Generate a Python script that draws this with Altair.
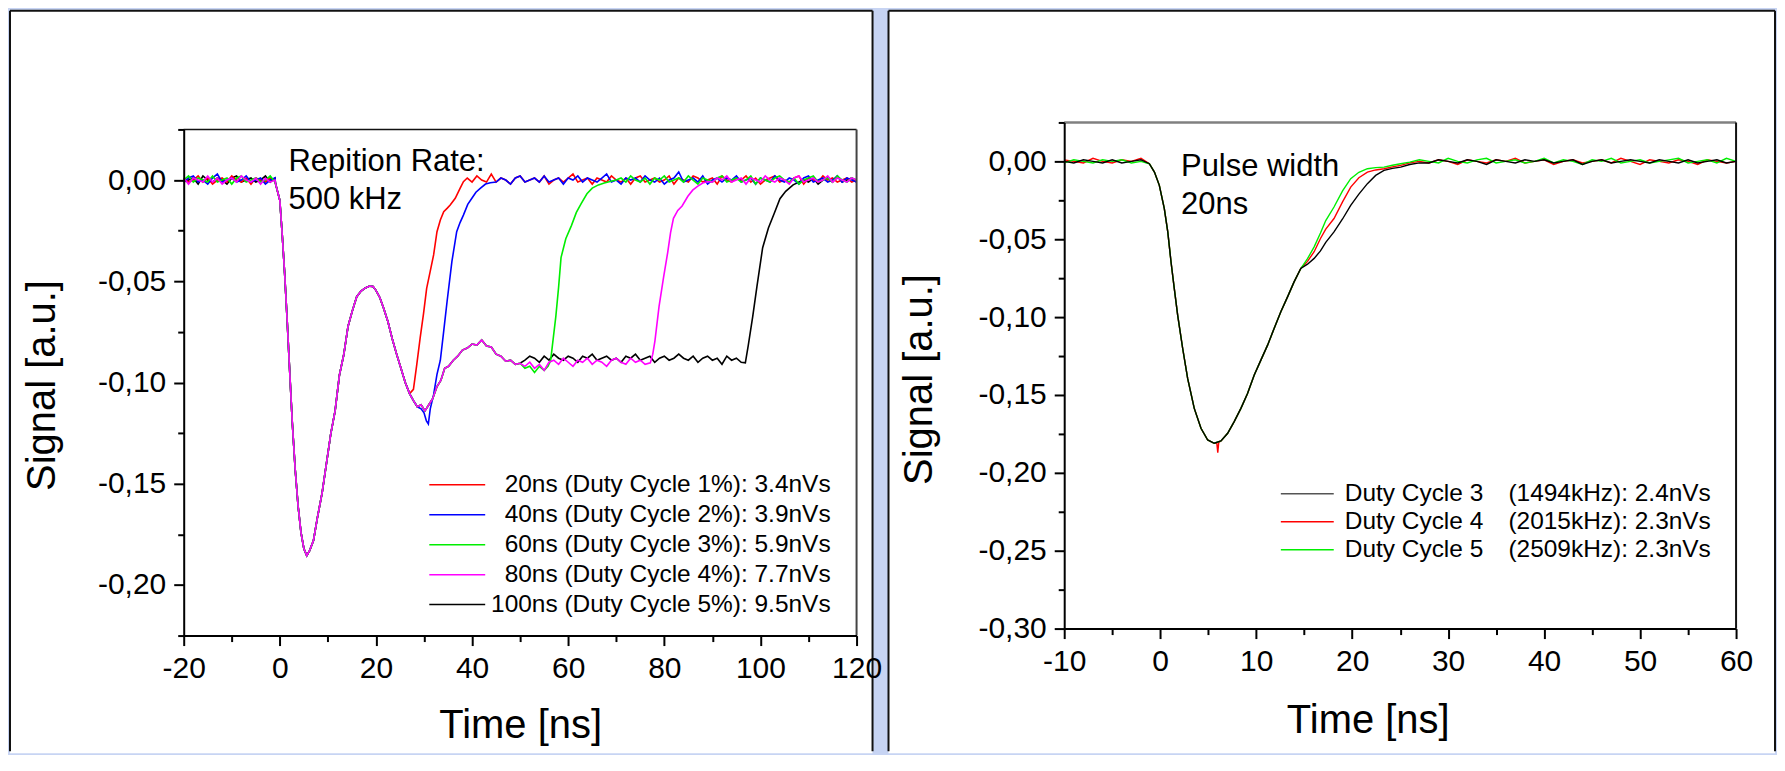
import altair as alt
import pandas as pd

FONT = "Liberation Sans"
BG = "#c7d4f3"

# ============ LEFT PANEL (repetition rate 500 kHz) ============
LEFT_LEGEND = ["20ns (Duty Cycle 1%): 3.4nVs", "40ns (Duty Cycle 2%): 3.9nVs",
               "60ns (Duty Cycle 3%): 5.9nVs", "80ns (Duty Cycle 4%): 7.7nVs",
               "100ns (Duty Cycle 5%): 9.5nVs"]
LEFT_COLORS = ["#ff0000", "#0000ff", "#00ee00", "#ff00ff", "#000000"]
LEFT_X_TICKS = [-20, -10, 0, 10, 20, 30, 40, 50, 60, 70, 80, 90, 100, 110, 120]
LEFT_Y_TICKS = [-0.225, -0.2, -0.175, -0.15, -0.125, -0.1, -0.075, -0.05, -0.025, 0.0, 0.025]
LEFT_NOTE_T = [1.81, 1.81]
LEFT_NOTE_V = [0.0043, -0.0145]
LEFT_NOTE_TXT = ["Repition Rate:", "500 kHz"]

# baseline noise before the pulse (t = -20 ... -1 ns)
L_PRE_RED = [0.001, -0.001, 0.0, 0.002, -0.001, 0.001, -0.002, 0.0, 0.001, -0.001,
             0.002, 0.0, -0.001, 0.001, -0.002, 0.001, 0.0, -0.001, 0.001, 0.0]
L_PRE_BLUE = [-0.001, 0.001, 0.002, -0.001, 0.0, -0.002, 0.001, 0.003, -0.001, 0.0,
              0.001, -0.001, 0.0, 0.002, -0.001, 0.0, 0.001, -0.002, 0.0, 0.001]
L_PRE_GREEN = [0.0, 0.002, -0.001, 0.001, 0.0, -0.001, 0.002, -0.001, 0.0, 0.001,
               -0.002, 0.001, 0.002, -0.001, 0.0, 0.001, -0.001, 0.0, 0.002, -0.001]
L_PRE_MAG = [0.001, -0.002, 0.001, 0.0, -0.001, 0.002, -0.001, 0.001, -0.002, 0.0,
             0.001, -0.001, 0.002, 0.0, -0.001, 0.001, -0.002, 0.001, -0.001, 0.0]
L_PRE_BLACK = [-0.001, 0.0, 0.001, -0.002, 0.002, 0.0, -0.001, 0.001, 0.0, -0.002,
               0.001, 0.002, -0.001, 0.0, 0.001, -0.001, 0.0, 0.002, -0.001, 0.001]

# common pulse shape
L_PULSE_T = [-0.9, 0.0, 0.5, 1.0, 1.5, 2.0, 2.6, 3.2, 3.8, 4.4,
             5.0, 5.6, 6.2, 7.0, 7.8, 8.8, 9.7, 10.6, 11.5, 12.4,
             13.3, 14.2, 15.1, 16.0, 16.9, 17.8, 18.7, 19.4, 20.0, 20.8,
             21.6, 22.5, 23.4, 24.3, 25.2, 26.1, 27.0]
L_PULSE_V = [-0.0017, -0.010, -0.027, -0.046, -0.068, -0.092, -0.120, -0.143, -0.161, -0.174,
             -0.182, -0.1855, -0.183, -0.178, -0.167, -0.1545, -0.140, -0.1254, -0.114, -0.0964,
             -0.0863, -0.0722, -0.0645, -0.0576, -0.0548, -0.0533, -0.0524, -0.0526, -0.0545, -0.058,
             -0.0633, -0.070, -0.0785, -0.086, -0.093, -0.100, -0.1055]

# 20 ns pulse recovery
RED_TAIL_T = [27.8, 28.5, 29.2, 29.9, 30.55, 31.3, 32.0, 32.7, 33.4, 34.1, 34.8, 35.45, 36.5, 37.5, 38.2]
RED_TAIL_V = [-0.1034, -0.091, -0.078, -0.066, -0.0535, -0.045, -0.037, -0.0255, -0.0197, -0.0156,
              -0.014, -0.0123, -0.009, -0.0041, -0.0008]
RED_NOISE = [0.001, -0.001, 0.002, 0.0, -0.001, 0.003, -0.001, 0.001, 0.0, -0.002,
             0.001, 0.002, -0.001, 0.0, 0.001, -0.001, 0.002, -0.002, 0.0, 0.001,
             -0.001, 0.001, 0.003, -0.001, 0.0, 0.001, -0.002, 0.001, 0.0, -0.001,
             0.002, 0.0, -0.001, 0.001, -0.002, 0.001, 0.002, -0.001, 0.0, 0.001,
             -0.001, 0.0, 0.002, -0.002, 0.001, 0.0, -0.001, 0.002, 0.001, -0.001,
             0.0, 0.001, -0.002, 0.002, 0.0, -0.001, 0.001, 0.0, 0.002, -0.001,
             0.001, -0.002, 0.0, 0.001, 0.002, -0.001, 0.0, -0.001, 0.001, 0.002,
             -0.002, 0.001, 0.0, -0.001, 0.002, 0.0, 0.001, -0.001, 0.0, 0.001,
             -0.001, 0.0]

# 40 ns pulse recovery
BLUE_TAIL_T = [27.8, 28.6, 29.4, 30.0, 30.5, 30.9, 31.3, 32.0, 32.7, 33.4, 34.1,
               34.8, 35.8, 36.8, 37.5, 38.2, 39.1, 39.96, 40.8, 41.7, 42.8, 43.8]
BLUE_TAIL_V = [-0.109, -0.112, -0.113, -0.115, -0.119, -0.1205, -0.113, -0.106, -0.096, -0.089, -0.0746,
               -0.060, -0.0403, -0.0255, -0.021, -0.0173, -0.012, -0.009, -0.006, -0.0041, -0.002, -0.0013]
BLUE_NOISE = [-0.001, 0.001, 0.0, -0.002, 0.001, 0.002, -0.001, 0.0, 0.001, -0.001,
              0.002, -0.001, 0.0, 0.001, -0.002, 0.001, 0.0, 0.002, -0.001, 0.001,
              0.0, -0.001, 0.001, 0.003, -0.001, 0.0, -0.002, 0.001, 0.0, 0.001,
              -0.001, 0.002, 0.0, -0.001, 0.001, -0.002, 0.0, 0.001, 0.004, -0.001,
              0.0, 0.001, -0.001, 0.002, -0.002, 0.0, 0.001, -0.001, 0.001, 0.0,
              0.002, -0.001, 0.0, 0.001, -0.002, 0.001, 0.0, -0.001, 0.002, 0.0,
              -0.001, 0.001, 0.0, -0.002, 0.001, 0.002, -0.001, 0.0, 0.001, -0.001,
              0.0, 0.002, -0.001, 0.001, 0.0, -0.001]

# common ringing for the longer pulses (60/80/100 ns)
S2_T = [27.8, 28.6, 29.4, 30.2, 31.0, 31.8, 32.7, 33.5, 34.3, 35.1, 36.1, 37.0, 38.0,
        39.0, 40.0, 41.0, 42.0, 43.0, 44.0, 45.0, 46.0, 47.0, 48.0, 49.0, 50.0]
S2_V = [-0.109, -0.112, -0.111, -0.114, -0.111, -0.108, -0.102, -0.099, -0.093, -0.092, -0.089, -0.087, -0.084,
        -0.083, -0.081, -0.0815, -0.079, -0.082, -0.0825, -0.086, -0.087, -0.0895, -0.089, -0.091, -0.0905]

GREEN_TAIL_T = [51, 52, 53, 54, 55, 55.8, 56.35, 56.9, 57.43, 58.0, 58.51, 59.5, 60.67,
                61.7, 62.7, 63.9, 65.0, 66.3, 67.5, 68.7]
GREEN_TAIL_V = [-0.093, -0.092, -0.095, -0.092, -0.094, -0.092, -0.0891, -0.078, -0.0673, -0.053, -0.0383,
                -0.029, -0.0225, -0.016, -0.0116, -0.0068, -0.004, -0.0024, -0.0015, -0.0007]
GREEN_NOISE = [0.0, 0.001, -0.001, 0.002, 0.0, -0.001, 0.001, -0.002, 0.001, 0.0,
               0.002, -0.001, 0.0, 0.001, -0.001, 0.002, 0.0, -0.002, 0.001, 0.0,
               -0.001, 0.001, 0.002, -0.001, 0.0, 0.001, -0.001, 0.0, 0.002, -0.002,
               0.001, 0.0, -0.001, 0.001, 0.002, 0.0, -0.001, 0.001, -0.002, 0.0,
               0.001, 0.002, -0.001, 0.0, 0.001, -0.001, 0.002, 0.0, -0.001, 0.001,
               0.0]

MAG_PLATEAU = [-0.092, -0.090, -0.093, -0.091, -0.094, -0.090, -0.089, -0.091, -0.088, -0.090,
               -0.092, -0.089, -0.090, -0.088, -0.091, -0.089, -0.090, -0.092, -0.089, -0.088,
               -0.090, -0.091, -0.088, -0.090, -0.089, -0.091]
MAG_RISE_T = [77.09, 77.6, 78.05, 78.9, 79.85, 80.7, 81.3, 81.9, 82.8, 83.7, 84.9, 85.9, 86.9, 88.0, 89.1]
MAG_RISE_V = [-0.0903, -0.086, -0.0794, -0.0625, -0.048, -0.0358, -0.026, -0.0189, -0.015, -0.0128,
              -0.008, -0.005, -0.0031, -0.0015, -0.0007]
MAG_NOISE = [-0.001, 0.001, 0.0, 0.002, -0.001, 0.0, 0.001, -0.002, 0.001, 0.0,
             -0.001, 0.002, 0.0, -0.001, 0.001, 0.0, -0.002, 0.001, 0.002, -0.001,
             0.0, 0.001, -0.001, 0.0, 0.002, -0.001, 0.001, 0.0, -0.001, 0.001,
             0.0]

BLACK_PLATEAU = [-0.089, -0.087, -0.088, -0.090, -0.087, -0.089, -0.086, -0.088, -0.089, -0.087,
                 -0.088, -0.090, -0.087, -0.088, -0.086, -0.089, -0.088, -0.087, -0.089, -0.088,
                 -0.090, -0.087, -0.088, -0.086, -0.089, -0.088, -0.087, -0.090, -0.088, -0.087,
                 -0.089, -0.088, -0.086, -0.088, -0.089, -0.087, -0.090, -0.088, -0.087, -0.089,
                 -0.088, -0.091, -0.087, -0.089, -0.088, -0.090]
BLACK_RISE_T = [96.86, 97.46, 98.4, 99.26, 100.46, 101.66, 102.86, 104.06, 105.25, 106.8, 108.25]
BLACK_RISE_V = [-0.0903, -0.0818, -0.0673, -0.0528, -0.0334, -0.0237, -0.0165, -0.0092, -0.0056, -0.0024, -0.0007]
BLACK_NOISE = [0.0, -0.001, 0.001, -0.002, 0.0, 0.001, -0.001, 0.002, -0.001, 0.0, 0.001, -0.001]

# ============ RIGHT PANEL (pulse width 20 ns) ============
RIGHT_LEGEND_A = ["Duty Cycle 3", "Duty Cycle 4", "Duty Cycle 5"]
RIGHT_LEGEND_B = ["(1494kHz): 2.4nVs", "(2015kHz): 2.3nVs", "(2509kHz): 2.3nVs"]
RIGHT_LEGEND_COLORS = ["#555555", "#ff0000", "#00ee00"]
RIGHT_X_TICKS = [-10, -5, 0, 5, 10, 15, 20, 25, 30, 35, 40, 45, 50, 55, 60]
RIGHT_Y_TICKS = [-0.3, -0.275, -0.25, -0.225, -0.2, -0.175, -0.15, -0.125, -0.1,
                 -0.075, -0.05, -0.025, 0.0, 0.025]
RIGHT_NOTE_T = [2.17, 2.17]
RIGHT_NOTE_V = [-0.0096, -0.034]
RIGHT_NOTE_TXT = ["Pulse width", "20ns"]

R_PRE_BLACK = [0.0, -0.001, 0.001, 0.0, -0.001, 0.001, -0.001, 0.0, 0.001]
R_PRE_RED = [0.001, 0.0, -0.001, 0.002, 0.0, -0.001, 0.001, 0.0, 0.002]
R_PRE_GREEN = [-0.001, 0.001, 0.0, -0.001, 0.001, 0.0, 0.001, -0.001, 0.0]

R_PULSE_T = [-1.13, -0.6, -0.09, 0.43, 0.79, 1.13, 1.47, 1.82, 2.34, 2.86,
             3.55, 4.25, 4.95, 5.63, 6.33, 7.03, 7.71, 8.41, 9.1, 9.8,
             10.49, 11.19, 11.87, 12.57, 13.27, 13.95, 14.65]
R_PULSE_V = [-0.0015, -0.0069, -0.0154, -0.0304, -0.0453, -0.0646, -0.0817, -0.0987, -0.120, -0.1394,
             -0.1586, -0.1714, -0.1789, -0.181, -0.1795, -0.1746, -0.1671, -0.1586, -0.149, -0.1372,
             -0.1276, -0.118, -0.1073, -0.0966, -0.087, -0.0774, -0.0688]

R_TAIL_T = [15.35, 16.04, 16.7, 17.25, 18.11, 19.0, 19.85, 20.7, 21.59, 22.45, 23.32, 24.2, 25.05, 26.0]
R_GREEN_TAIL_V = [-0.0625, -0.0549, -0.046, -0.038, -0.0293, -0.019, -0.0111, -0.007, -0.0047, -0.004,
                  -0.0037, -0.0025, -0.0015, -0.0005]
R_RED_TAIL_V = [-0.0642, -0.058, -0.0495, -0.0435, -0.0367, -0.026, -0.0165, -0.0105, -0.0069, -0.0055,
                -0.0047, -0.0035, -0.0026, -0.001]
R_BLACK_TAIL_T = [15.35, 16.04, 16.7, 17.25, 18.11, 19.0, 19.85, 20.7, 21.59, 22.45, 23.32, 24.2, 25.05, 26.0, 27.0]
R_BLACK_TAIL_V = [-0.066, -0.0623, -0.0575, -0.052, -0.0453, -0.037, -0.0282, -0.021, -0.0143, -0.009,
                  -0.0058, -0.0045, -0.0037, -0.002, -0.001]
R_RED_SPIKE_T = [5.9, 6.0, 6.1]
R_RED_SPIKE_V = [-0.181, -0.187, -0.1805]

R_NOISE_RED = [0.0, -0.001, 0.001, 0.0, -0.002, 0.001, 0.0, -0.001, 0.001, 0.0,
               0.002, -0.001, 0.0, 0.001, -0.002, 0.0, 0.001, -0.001, 0.0, 0.001,
               -0.001, 0.002, 0.0, -0.002, 0.001, 0.0, -0.001, 0.001, 0.0, -0.002,
               0.001, 0.0, -0.001, 0.0]
R_NOISE_GREEN = [0.001, 0.0, -0.001, 0.002, 0.0, -0.001, 0.001, 0.002, -0.001, 0.0,
                 0.001, -0.001, 0.0, 0.002, -0.001, 0.001, 0.0, -0.002, 0.001, 0.0,
                 0.002, -0.001, 0.0, 0.001, -0.001, 0.0, 0.001, 0.002, -0.001, 0.0,
                 0.001, -0.001, 0.002, 0.0]
R_NOISE_BLACK = [-0.001, 0.001, 0.0, -0.001, 0.001, 0.0, -0.002, 0.001, 0.0, -0.001,
                 0.001, 0.0, 0.001, -0.001, 0.0, 0.001, -0.002, 0.0, 0.001, -0.001,
                 0.0, 0.001, 0.0, -0.001, 0.001, 0.0, -0.001, 0.001, -0.001, 0.0,
                 0.001, -0.001, 0.0]


def seq(start, values):
    """Sample times (1 ns apart) for a list of read-off values."""
    return [start + i for i in range(len(values))]


def frame(parts):
    ts, vs = [], []
    for t_list, v_list in parts:
        if len(t_list) != len(v_list):
            raise ValueError("length mismatch")
        ts += list(t_list)
        vs += list(v_list)
    return pd.DataFrame({"t": ts, "v": vs})


left_frames = [  # drawing order: black first, magenta last
    ("#000000", frame([(seq(-20, L_PRE_BLACK), L_PRE_BLACK), (L_PULSE_T, L_PULSE_V), (S2_T, S2_V),
                       (seq(51, BLACK_PLATEAU), BLACK_PLATEAU), (BLACK_RISE_T, BLACK_RISE_V),
                       (seq(109, BLACK_NOISE), BLACK_NOISE)])),
    ("#ff0000", frame([(seq(-20, L_PRE_RED), L_PRE_RED), (L_PULSE_T, L_PULSE_V), (RED_TAIL_T, RED_TAIL_V),
                       (seq(39, RED_NOISE), RED_NOISE)])),
    ("#0000ff", frame([(seq(-20, L_PRE_BLUE), L_PRE_BLUE), (L_PULSE_T, L_PULSE_V), (BLUE_TAIL_T, BLUE_TAIL_V),
                       (seq(45, BLUE_NOISE), BLUE_NOISE)])),
    ("#00ee00", frame([(seq(-20, L_PRE_GREEN), L_PRE_GREEN), (L_PULSE_T, L_PULSE_V), (S2_T, S2_V),
                       (GREEN_TAIL_T, GREEN_TAIL_V), (seq(70, GREEN_NOISE), GREEN_NOISE)])),
    ("#ff00ff", frame([(seq(-20, L_PRE_MAG), L_PRE_MAG), (L_PULSE_T, L_PULSE_V), (S2_T, S2_V),
                       (seq(51, MAG_PLATEAU), MAG_PLATEAU), (MAG_RISE_T, MAG_RISE_V),
                       (seq(90, MAG_NOISE), MAG_NOISE)])),
]

right_frames = [
    ("#ff0000", frame([(seq(-10, R_PRE_RED), R_PRE_RED), (R_PULSE_T, R_PULSE_V), (R_RED_SPIKE_T, R_RED_SPIKE_V),
                       (R_TAIL_T, R_RED_TAIL_V), (seq(27, R_NOISE_RED), R_NOISE_RED)])),
    ("#00ee00", frame([(seq(-10, R_PRE_GREEN), R_PRE_GREEN), (R_PULSE_T, R_PULSE_V),
                       (R_TAIL_T, R_GREEN_TAIL_V), (seq(27, R_NOISE_GREEN), R_NOISE_GREEN)])),
    ("#000000", frame([(seq(-10, R_PRE_BLACK), R_PRE_BLACK), (R_PULSE_T, R_PULSE_V),
                       (R_BLACK_TAIL_T, R_BLACK_TAIL_V), (seq(28, R_NOISE_BLACK), R_NOISE_BLACK)])),
]

# Both plot origins share the same y in the concat row; the left plot's
# scale range starts 7px lower so that its frame sits lower than the right one.
W_L, H_L, TOP_L = 674, 514, 7
W_R, H_R = 673, 507


def axis_common():
    return dict(domainColor="black", domainWidth=2, tickColor="black", tickWidth=2,
                labelFont=FONT, labelFontSize=30, labelColor="black", labelPadding=8,
                labelFlush=False, labelOverlap=False, grid=False, zindex=1,
                titleFont=FONT, titleFontSize=40, titleFontWeight="normal", titleColor="black")


def x_enc(domain, values, major, title_x, title_y):
    test = f"datum.value % {major} == 0"
    return alt.X("t:Q", scale=alt.Scale(domain=domain, nice=False, zero=False),
                 axis=alt.Axis(values=values, title="Time [ns]",
                               labelExpr=f"{test} ? toString(datum.value) : ''",
                               tickSize={"condition": {"test": test, "value": 10}, "value": 6},
                               titleX=title_x, titleY=title_y, **axis_common()))


def y_enc(domain, values, title_x, title_y, rng):
    test = "abs(round(datum.value * 40)) % 2 == 0"
    expr = (f"{test} ? (datum.value < -0.0001 ? '-' : '') + "
            "replace(format(abs(datum.value), '.2f'), '.', ',') : ''")
    return alt.Y("v:Q", scale=alt.Scale(domain=domain, nice=False, zero=False, range=rng),
                 axis=alt.Axis(values=values, title="Signal [a.u.]", labelExpr=expr,
                               tickSize={"condition": {"test": test, "value": 10}, "value": 6},
                               titleX=title_x, titleY=title_y, **axis_common()))


ONE = alt.Data(values=[{"k": 0}])


def panel(x0, x1, y0, y1):
    base = alt.Chart(ONE)
    return [
        base.mark_rect(fill="white").encode(x=alt.value(x0), x2=alt.value(x1), y=alt.value(y0),
                                            y2=alt.value(y1 + 2)),
        base.mark_rule(color="#111111", strokeWidth=2).encode(x=alt.value(x0), y=alt.value(y0), y2=alt.value(y1)),
        base.mark_rule(color="#111111", strokeWidth=2).encode(x=alt.value(x0), x2=alt.value(x1), y=alt.value(y0)),
        base.mark_rule(color="#111111", strokeWidth=2).encode(x=alt.value(x1), y=alt.value(y0), y2=alt.value(y1)),
    ]


def plot_frame(w, top, bottom, top_color, top_width, right_color, right_width):
    base = alt.Chart(ONE)
    return [
        base.mark_rule(color=top_color, strokeWidth=top_width).encode(x=alt.value(0), x2=alt.value(w), y=alt.value(top)),
        base.mark_rule(color=right_color, strokeWidth=right_width).encode(x=alt.value(w), y=alt.value(top),
                                                                          y2=alt.value(bottom)),
    ]


def note_layer(ts, vs, txt, xe, ye):
    df = pd.DataFrame({"t": ts, "v": vs, "txt": txt})
    return alt.Chart(df).mark_text(align="left", baseline="alphabetic", font=FONT, fontSize=31,
                                   color="black").encode(x=xe, y=ye, text="txt:N")


# ---------- left chart ----------
xl = x_enc([-20, 120], LEFT_X_TICKS, 20, W_L / 2, 70)
yl = y_enc([-0.225, 0.025], LEFT_Y_TICKS, -121, 263, [H_L, TOP_L])
left_lines = [alt.Chart(df).mark_line(color=c, strokeWidth=1.6).encode(x=xl, y=yl) for c, df in left_frames]
left_main = alt.layer(*panel(-174, 690, -112, 630), *left_lines,
                      *plot_frame(W_L, TOP_L, H_L, "#111111", 1.5, "#444444", 2),
                      note_layer(LEFT_NOTE_T, LEFT_NOTE_V, LEFT_NOTE_TXT, xl, yl))

lleg = pd.DataFrame({"row": list(range(len(LEFT_LEGEND))), "label": LEFT_LEGEND, "color": LEFT_COLORS})
ly = alt.Y("row:Q", scale=alt.Scale(domain=[0, 4], range=[363, 483], nice=False, zero=False), axis=None)
left_legend = alt.layer(
    alt.Chart(lleg).mark_rule(strokeWidth=1.5).encode(x=alt.value(246), x2=alt.value(302), y=ly,
                                                      color=alt.Color("color:N", scale=None)),
    alt.Chart(lleg).mark_text(align="right", baseline="middle", font=FONT, fontSize=24.5,
                              color="black").encode(x=alt.value(648), y=ly, text="label:N"),
)
left = alt.layer(left_main, left_legend).resolve_scale(y="independent").properties(width=W_L, height=H_L)

# ---------- right chart ----------
xr = x_enc([-10, 60], RIGHT_X_TICKS, 10, 304, 72)
yr = y_enc([-0.3, 0.025], RIGHT_Y_TICKS, -125, 257, [H_R, 0])
right_lines = [alt.Chart(df).mark_line(color=c, strokeWidth=1.4).encode(x=xr, y=yr) for c, df in right_frames]
right_main = alt.layer(*panel(-176, 712, -112, 630), *right_lines,
                       *plot_frame(W_R, 0, H_R, "#808080", 2.5, "#111111", 2),
                       note_layer(RIGHT_NOTE_T, RIGHT_NOTE_V, RIGHT_NOTE_TXT, xr, yr))

rleg = pd.DataFrame({"row": list(range(len(RIGHT_LEGEND_A))), "a": RIGHT_LEGEND_A, "b": RIGHT_LEGEND_B,
                     "color": RIGHT_LEGEND_COLORS})
ry = alt.Y("row:Q", scale=alt.Scale(domain=[0, 2], range=[372, 428], nice=False, zero=False), axis=None)
right_legend = alt.layer(
    alt.Chart(rleg).mark_rule(strokeWidth=1.5).encode(x=alt.value(217), x2=alt.value(270), y=ry,
                                                      color=alt.Color("color:N", scale=None)),
    alt.Chart(rleg).mark_text(align="left", baseline="middle", font=FONT, fontSize=24.5,
                              color="black").encode(x=alt.value(281), y=ry, text="a:N"),
    alt.Chart(rleg).mark_text(align="left", baseline="middle", font=FONT, fontSize=24.5,
                              color="black").encode(x=alt.value(445), y=ry, text="b:N"),
)
right = alt.layer(right_main, right_legend).resolve_scale(y="independent").properties(width=W_R, height=H_R)

chart = (
    alt.hconcat(left, right, spacing=4)
    .resolve_scale(x="independent", y="independent")
    .properties(padding=0)
    .configure(background=BG, font=FONT)
    .configure_view(stroke="transparent")
)

chart.save("out.html", embed_options={"renderer": "svg", "actions": False})
